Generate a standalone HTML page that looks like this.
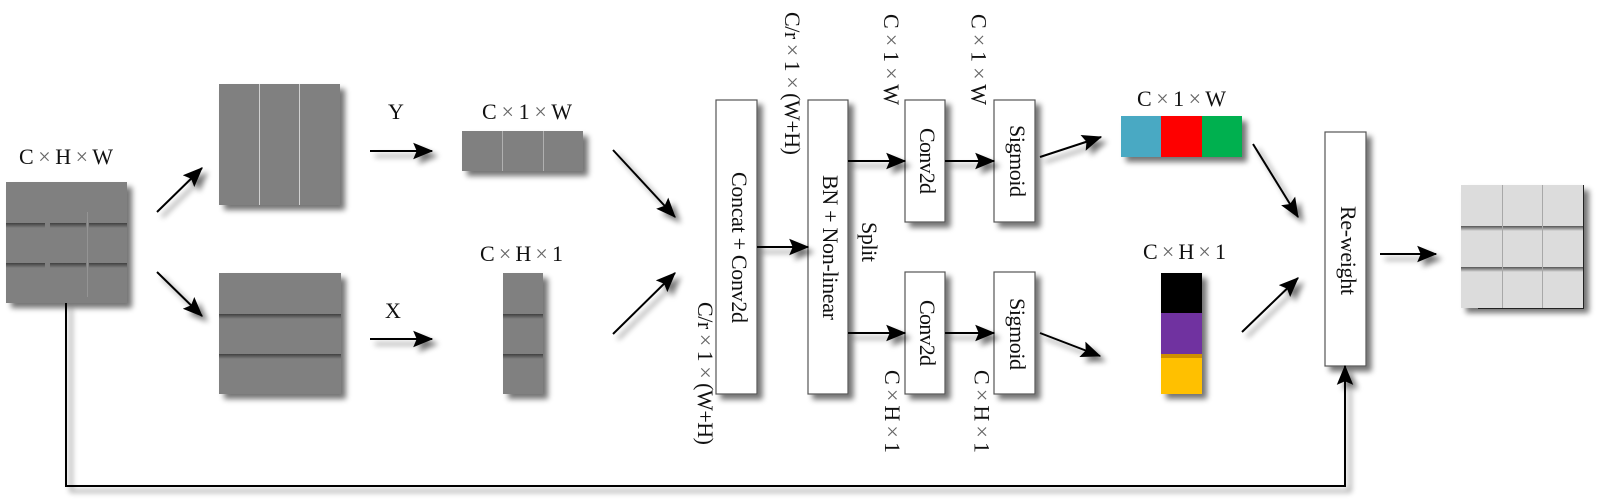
<!DOCTYPE html>
<html>
<head>
<meta charset="utf-8">
<style>
html,body{margin:0;padding:0;background:#fff;width:1598px;height:500px;overflow:hidden}
svg{display:block}
text{font-family:"Liberation Serif",serif;font-size:22px;fill:#111}
tspan{fill:#666}
.box{fill:#fff;stroke:#555;stroke-width:1.2}
.ar{fill:none;stroke:#000;stroke-width:2;marker-end:url(#h)}
</style>
</head>
<body>
<svg width="1598" height="500" viewBox="0 0 1598 500" xmlns="http://www.w3.org/2000/svg">
<defs>
<filter id="s" filterUnits="userSpaceOnUse" x="0" y="0" width="1598" height="500">
<feGaussianBlur in="SourceAlpha" stdDeviation="3"/>
<feOffset dx="5" dy="5"/>
<feComponentTransfer><feFuncA type="linear" slope="0.55"/></feComponentTransfer>
<feMerge><feMergeNode/><feMergeNode in="SourceGraphic"/></feMerge>
</filter>
<marker id="h" markerUnits="userSpaceOnUse" markerWidth="20" markerHeight="18" viewBox="0 0 17 14" refX="16" refY="7" orient="auto">
<path d="M0 0L17 7L0 14L3 7z" fill="#000"/>
</marker>
<linearGradient id="d" x1="0" y1="0" x2="0" y2="1"><stop offset="0" stop-color="#404040"/><stop offset="1" stop-color="#808080"/></linearGradient>
<linearGradient id="dl" x1="0" y1="0" x2="0" y2="1"><stop offset="0" stop-color="#555"/><stop offset="1" stop-color="#dcdcdc"/></linearGradient>
</defs>
<rect width="1598" height="500" fill="#fff"/>

<!-- shadowed shapes -->
<g filter="url(#s)">
<rect x="6" y="182" width="121" height="121" fill="#808080"/>
<rect x="219" y="84" width="121" height="121" fill="#808080"/>
<rect x="219" y="273" width="122" height="121" fill="#808080"/>
<rect x="462" y="131" width="121" height="40" fill="#808080"/>
<rect x="503" y="273" width="40" height="121" fill="#808080"/>
<rect x="1121" y="116" width="121" height="41" fill="#4aa9c3"/>
<rect x="1161" y="116" width="41" height="41" fill="#fe0000"/>
<rect x="1202" y="116" width="40" height="41" fill="#00b04f"/>
<rect x="1161" y="273" width="41" height="40" fill="#000"/>
<rect x="1161" y="313" width="41" height="41" fill="#7030a0"/>
<rect x="1161" y="354" width="41" height="40" fill="#ffc000"/>
<rect x="1461" y="185" width="123" height="123" fill="#dcdcdc"/>
<rect class="box" x="716" y="100" width="41" height="294"/>
<rect class="box" x="808" y="100" width="40" height="294"/>
<rect class="box" x="905" y="100" width="40" height="122"/>
<rect class="box" x="905" y="272" width="40" height="122"/>
<rect class="box" x="994" y="100" width="41" height="122"/>
<rect class="box" x="994" y="272" width="41" height="122"/>
<rect class="box" x="1325" y="132" width="41" height="234"/>
</g>

<!-- tile details -->
<g fill="url(#d)">
<rect x="6" y="223" width="39" height="5"/><rect x="50" y="223" width="36" height="5"/><rect x="89" y="223" width="38" height="5"/>
<rect x="6" y="263" width="39" height="5"/><rect x="50" y="263" width="36" height="5"/><rect x="89" y="263" width="38" height="5"/>
<rect x="219" y="314" width="122" height="5"/><rect x="219" y="354" width="122" height="5"/>
<rect x="503" y="314" width="40" height="5"/><rect x="503" y="354" width="40" height="5"/>
</g>
<rect x="87" y="212" width="1" height="85" fill="#949494"/>
<rect x="259" y="84" width="1" height="121" fill="#d0d0d0"/>
<rect x="299" y="84" width="1" height="121" fill="#d0d0d0"/>
<rect x="502" y="131" width="1" height="40" fill="#b0b0b0"/>
<rect x="543" y="131" width="1" height="40" fill="#b0b0b0"/>
<rect x="1161" y="354" width="41" height="4" fill="#d08f00"/>
<g fill="url(#dl)">
<rect x="1461" y="226" width="123" height="5"/>
<rect x="1461" y="267" width="123" height="5"/>
</g>
<g fill="#a8a8a8">
<rect x="1502" y="185" width="1" height="123"/>
<rect x="1542" y="185" width="1" height="123"/>
</g>
<path d="M1583.5 185V308.5H1478" fill="none" stroke="#222" stroke-width="1"/>

<!-- connectors -->
<g filter="url(#s)">
<path class="ar" d="M157 212L202 168"/>
<path class="ar" d="M157 272L202 316"/>
<path class="ar" d="M370 151H432"/>
<path class="ar" d="M370 339H432"/>
<path class="ar" d="M613 150L675 217"/>
<path class="ar" d="M613 334L675 273"/>
<path class="ar" d="M757 247H808"/>
<path class="ar" d="M848 161H905"/>
<path class="ar" d="M848 333H905"/>
<path class="ar" d="M945 161H994"/>
<path class="ar" d="M945 333H994"/>
<path class="ar" d="M1040 157L1101 137"/>
<path class="ar" d="M1040 333L1100 356"/>
<path class="ar" d="M1253 144L1298 217"/>
<path class="ar" d="M1242 332L1298 278"/>
<path class="ar" d="M1380 254H1436"/>
<path class="ar" d="M66 303V486H1345V366"/>
</g>

<!-- horizontal labels -->
<text x="19" y="164" textLength="94">C <tspan>×</tspan> H <tspan>×</tspan> W</text>
<text x="388" y="119">Y</text>
<text x="385" y="318">X</text>
<text x="482" y="119" textLength="90">C <tspan>×</tspan> 1 <tspan>×</tspan> W</text>
<text x="480" y="261" textLength="83">C <tspan>×</tspan> H <tspan>×</tspan> 1</text>
<text x="1137" y="106" textLength="89">C <tspan>×</tspan> 1 <tspan>×</tspan> W</text>
<text x="1143" y="259" textLength="83">C <tspan>×</tspan> H <tspan>×</tspan> 1</text>

<!-- rotated labels -->
<text transform="translate(785 12) rotate(90)" textLength="143">C/r <tspan>×</tspan> 1 <tspan>×</tspan> (W+H)</text>
<text transform="translate(698 302) rotate(90)" textLength="143">C/r <tspan>×</tspan> 1 <tspan>×</tspan> (W+H)</text>
<text transform="translate(884 14) rotate(90)" textLength="91">C <tspan>×</tspan> 1 <tspan>×</tspan> W</text>
<text transform="translate(971.5 14) rotate(90)" textLength="91">C <tspan>×</tspan> 1 <tspan>×</tspan> W</text>
<text transform="translate(885 370) rotate(90)" textLength="83">C <tspan>×</tspan> H <tspan>×</tspan> 1</text>
<text transform="translate(974.5 370) rotate(90)" textLength="83">C <tspan>×</tspan> H <tspan>×</tspan> 1</text>
<text transform="translate(862 222) rotate(90)" textLength="40">Split</text>
<text transform="translate(732 172) rotate(90)" textLength="151">Concat + Conv2d</text>
<text transform="translate(823 175) rotate(90)" textLength="145">BN + Non-linear</text>
<text transform="translate(920 128) rotate(90)" textLength="66">Conv2d</text>
<text transform="translate(920 300) rotate(90)" textLength="66">Conv2d</text>
<text transform="translate(1010 125) rotate(90)" textLength="72">Sigmoid</text>
<text transform="translate(1010 298) rotate(90)" textLength="72">Sigmoid</text>
<text transform="translate(1341 206) rotate(90)" textLength="89">Re-weight</text>
</svg>
</body>
</html>
